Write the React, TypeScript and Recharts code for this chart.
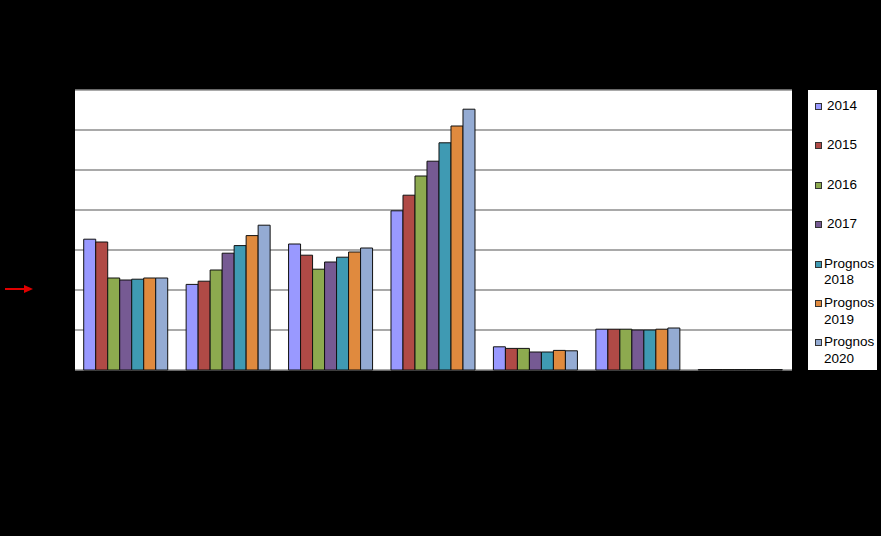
import React from 'react';
import { BarChart, Bar, XAxis, YAxis, CartesianGrid } from 'recharts';

// category names are drawn black on black in the source, so they are not readable
const categories = ['1', '2', '3', '4', '5', '6', '7'];
const seriesNames = ['2014', '2015', '2016', '2017', 'Prognos 2018', 'Prognos 2019', 'Prognos 2020'];
const colors = ['#9999FF', '#B04A46', '#8DAA4F', '#765A93', '#3F9AB3', '#E08A3E', '#94ABD3'];

const v2014 = [32.7, 21.4, 31.5, 39.8, 5.8, 10.2, 0.1];
const v2015 = [32.0, 22.2, 28.7, 43.7, 5.4, 10.2, 0.1];
const v2016 = [23.0, 25.0, 25.2, 48.5, 5.4, 10.2, 0.1];
const v2017 = [22.5, 29.2, 27.0, 52.2, 4.5, 10.0, 0.1];
const v2018 = [22.7, 31.1, 28.2, 56.8, 4.5, 10.0, 0.1];
const v2019 = [23.0, 33.6, 29.5, 61.0, 4.9, 10.2, 0.1];
const v2020 = [23.0, 36.2, 30.5, 65.2, 4.8, 10.5, 0.1];

const yTicks = [0, 10, 20, 30, 40, 50, 60, 70];

const series = [v2014, v2015, v2016, v2017, v2018, v2019, v2020];

const data = categories.map((c, i) => {
    const row: Record<string, any> = { name: c };
    seriesNames.forEach((s, k) => {
        row[s] = series[k][i];
    });
    return row;
});

const LegendBox = () => (
    <div style={{ position: 'absolute', left: 808, top: 90, width: 69, height: 280, background: '#fff', fontFamily: 'Arial, "Liberation Sans", sans-serif', fontSize: 13.5, color: '#000' }}>
        {seriesNames.map((s, i) => {
            const parts = s.split(' ');
            const top = 16 + i * 39.4;
            return (
                <div key={s} style={{ position: 'absolute', left: 7, top: top - 8, display: 'flex', alignItems: 'flex-start' }}>
                    <span style={{ width: 5, height: 5, marginTop: 5, marginRight: parts.length > 1 ? 2 : 5, background: colors[i], border: '1px solid #333' }} />
                    <span style={{ lineHeight: '16.7px' }}>
                        {parts.map((p, j) => <div key={j}>{p}</div>)}
                    </span>
                </div>
            );
        })}
    </div>
);

export default function App() {
    return (
        <div style={{ position: 'absolute', left: 0, top: 0, width: 881, height: 536, background: '#000', overflow: 'hidden' }}>
            <BarChart
                width={881}
                height={536}
                data={data}
                margin={{ top: 90, right: 89, left: 75, bottom: 166 }}
                barCategoryGap="8.5%"
                barGap={0}
            >
                <CartesianGrid vertical={false} fill="#fff" stroke="#8c8c8c" strokeWidth={1.5} />
                <XAxis dataKey="name" height={0} tick={{ fill: '#000' }} tickLine={false} axisLine={{ stroke: '#000', strokeWidth: 3 }} />
                <YAxis width={0} domain={[0, 70]} ticks={yTicks} tick={{ fill: '#000', fontSize: 12 }} tickLine={false} axisLine={false} />
                {seriesNames.map((s, i) => (
                    <Bar key={s} dataKey={s} fill={colors[i]} stroke="#111" strokeWidth={1} isAnimationActive={false} />
                ))}
            </BarChart>
            <LegendBox />
            <svg style={{ position: 'absolute', left: 0, top: 280 }} width={40} height={20}>
                <line x1={5} y1={9} x2={27} y2={9} stroke="#E00000" strokeWidth={2} />
                <polygon points="24,5 33,9 24,13" fill="#E00000" />
            </svg>
        </div>
    );
}
